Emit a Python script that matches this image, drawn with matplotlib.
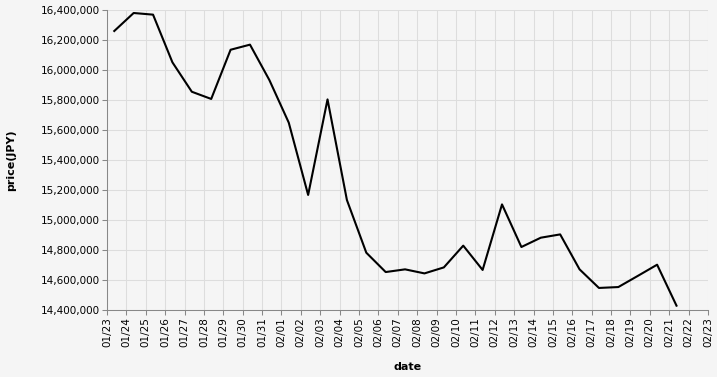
import numpy as np
import pandas as pd
import matplotlib
matplotlib.use('Agg')
from matplotlib import pyplot as plt
import matplotlib.dates as mdates
from matplotlib.ticker import FuncFormatter

dates = pd.date_range('2024-01-23 09:00', periods=30, freq='D')
prices = [16260000, 16380000, 16369000, 16051000, 15855000, 15807000, 16135000,
          16169000, 15933000, 15649000, 15167000, 15804000, 15133000, 14782000,
          14653000, 14671000, 14644000, 14684000, 14829000, 14667000, 15104000,
          14820000, 14882000, 14904000, 14671000, 14547000, 14553000, 14627000,
          14702000, 14429000]
yticks = np.arange(14400000, 16400001, 200000)
xticks = pd.date_range('2024-01-23', '2024-02-23', freq='D')

bg = '#f5f5f5'
fig = plt.figure(figsize=(7.17, 3.77), dpi=100, facecolor=bg)
ax = fig.add_axes([107/717, 1 - 310/377, (708 - 107)/717, 300/377])
ax.set_facecolor(bg)

ax.plot(dates, prices, color='black', lw=1.5, zorder=3)

ax.set_xlim(xticks[0], xticks[-1])
ax.set_ylim(yticks[0], yticks[-1])
ax.set_xticks(xticks)
ax.xaxis.set_major_formatter(mdates.DateFormatter('%m/%d'))
ax.set_yticks(yticks)
ax.yaxis.set_major_formatter(FuncFormatter(lambda v, p: f'{int(v):,}'))

ax.grid(True, color='#dddddd', lw=0.75, zorder=0)
ax.set_axisbelow(True)
for s in ['top', 'right']:
    ax.spines[s].set_visible(False)
for s in ['left', 'bottom']:
    ax.spines[s].set_color('#888888')
    ax.spines[s].set_linewidth(0.75)

ax.tick_params(axis='both', colors='#888888', length=3.6, width=0.75,
               labelsize=7.5, labelcolor='black', pad=1.5)
plt.setp(ax.get_xticklabels(), rotation=90)

ax.set_xlabel('date', fontsize=8, fontweight='bold')
ax.set_ylabel('price(JPY)', fontsize=8, fontweight='bold')
ax.xaxis.set_label_coords(0.5, -0.173)
ax.yaxis.set_label_coords(-0.151, 0.5)

fig.savefig('out.png', dpi=100, facecolor=bg)
